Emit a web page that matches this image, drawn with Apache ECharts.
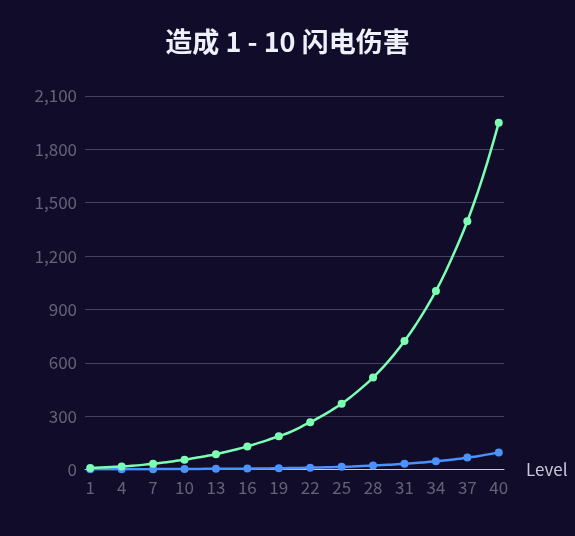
<!DOCTYPE html>
<html>
<head>
<meta charset="utf-8">
<style>
  html, body { margin: 0; padding: 0; background: #100c2a; }
  #main { width: 575px; height: 536px; }
</style>
<script src="https://cdn.jsdelivr.net/npm/echarts@6/dist/echarts.min.js"></script>
</head>
<body>
<div id="main"></div>
<script>
// 等级 1 - 40
var levels = [];
for (var i = 1; i <= 40; i++) levels.push(String(i));

// 最小伤害（蓝）
var minDamage = [1, 1.2, 1.3, 1.5, 1.7, 1.8, 2, 2.3, 2.6, 3,
                 3.3, 3.6, 4, 4.3, 4.6, 5, 5.6, 6.3, 7, 8,
                 9, 10, 11.5, 13, 15, 17, 19.5, 22, 25, 28,
                 32, 36, 41, 46, 52, 59, 67, 75, 85, 95];

// 最大伤害（绿）
var maxDamage = [8, 11, 14, 17, 21, 26, 32, 39, 47, 55,
                 65, 75, 86, 100, 114, 130, 148, 167, 187, 208,
                 236, 266, 297, 332, 370, 414, 463, 517, 578, 646,
                 722, 807, 900, 1004, 1122, 1253, 1396, 1560, 1745, 1950];

var myChart = echarts.init(document.getElementById('main'));

var option = {
    backgroundColor: '#100c2a',
    title: {
        text: '造成 1 - 10 闪电伤害',
        left: 'center',
        top: 23,
        textStyle: {
            color: '#eef1fa',
            fontSize: 27,
            fontWeight: 'bold',
            fontFamily: '"Noto Sans CJK SC", sans-serif'
        }
    },
    grid: {
        left: 85,
        right: 71,
        top: 96,
        bottom: 66.5
    },
    xAxis: {
        type: 'category',
        data: levels,
        name: 'Level',
        nameGap: 22,
        nameTextStyle: {
            color: '#c9c7d8',
            fontSize: 17,
            fontFamily: '"Noto Sans CJK SC", sans-serif'
        },
        axisLine: { lineStyle: { color: '#c9c7d8' } },
        axisTick: { show: false },
        axisLabel: {
            interval: 2,
            color: '#646276',
            fontSize: 17,
            margin: 10,
            fontFamily: '"Noto Sans CJK SC", sans-serif'
        }
    },
    yAxis: {
        type: 'value',
        min: 0,
        max: 2100,
        interval: 300,
        axisLine: { show: false },
        axisTick: { show: false },
        axisLabel: {
            color: '#646276',
            fontSize: 17,
            margin: 8,
            fontFamily: '"Noto Sans CJK SC", sans-serif'
        },
        splitLine: { lineStyle: { color: '#45415e' } }
    },
    series: [
        {
            name: '最小伤害',
            type: 'line',
            smooth: true,
            data: minDamage,
            symbol: 'circle',
            symbolSize: 8,
            showAllSymbol: false,
            itemStyle: { color: '#4992ff' },
            lineStyle: { width: 2.5, color: '#4992ff' }
        },
        {
            name: '最大伤害',
            type: 'line',
            smooth: true,
            data: maxDamage,
            symbol: 'circle',
            symbolSize: 8,
            showAllSymbol: false,
            itemStyle: { color: '#7cffb2' },
            lineStyle: { width: 2.5, color: '#7cffb2' }
        }
    ]
};
myChart.setOption(option);
</script>
</body>
</html>
